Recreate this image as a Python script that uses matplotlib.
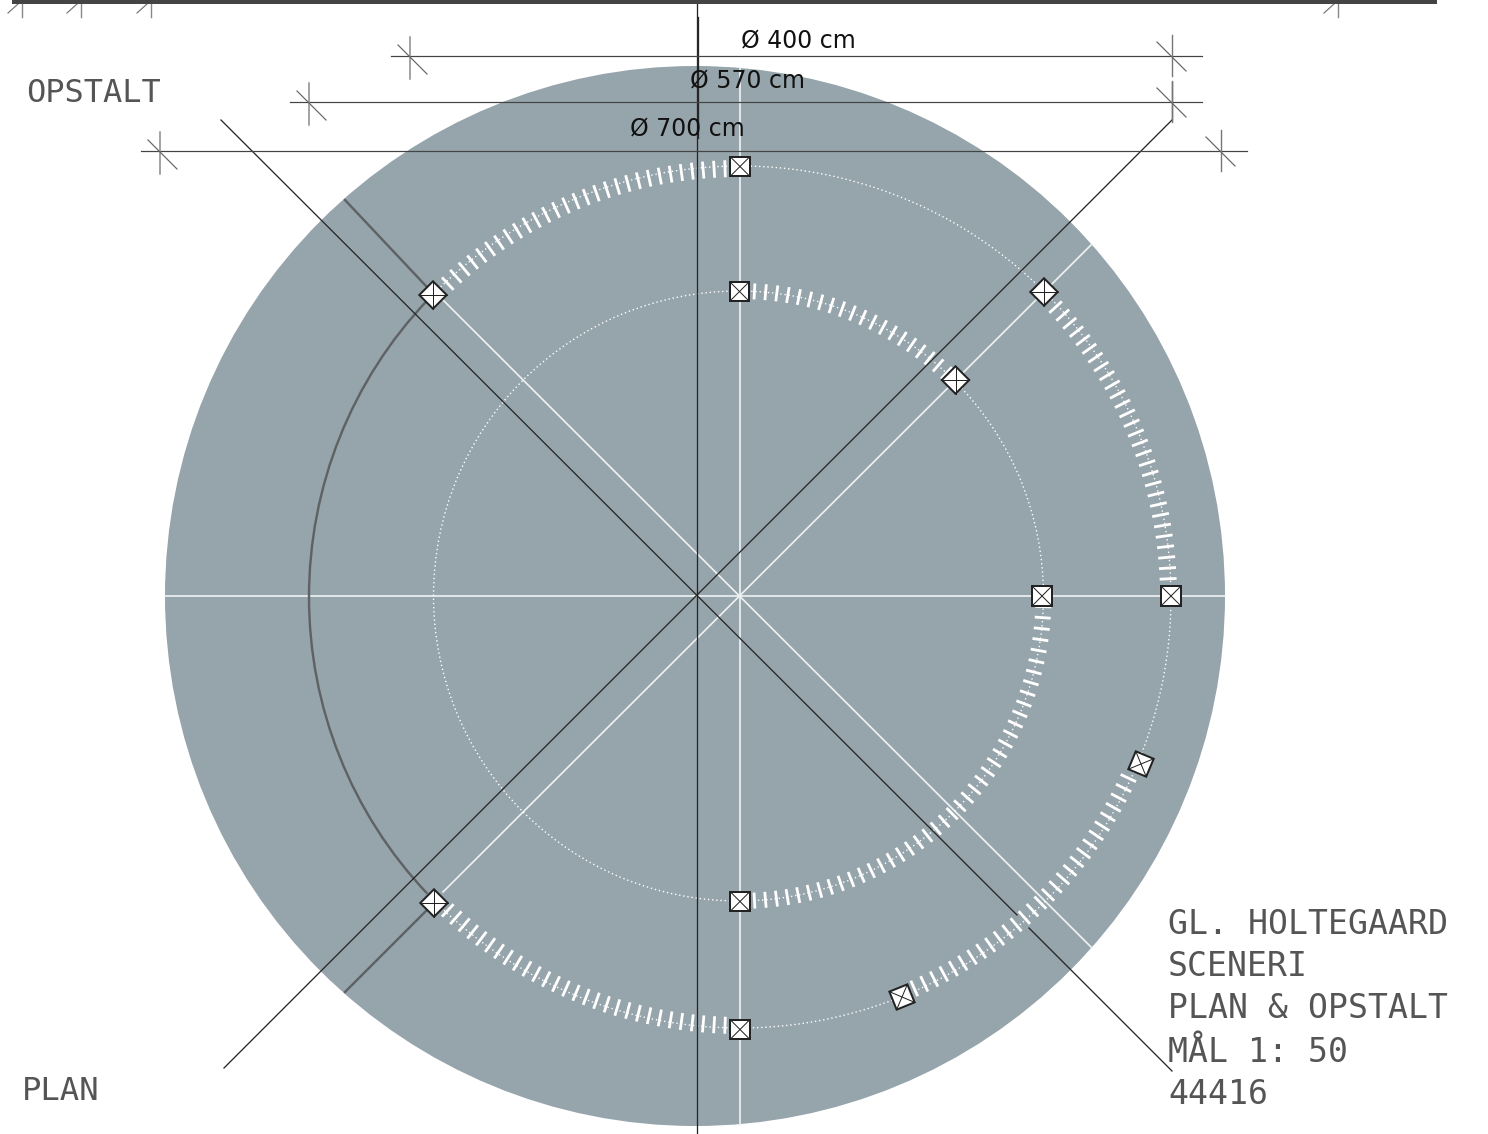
import numpy as np
import matplotlib

matplotlib.use("Agg")
import matplotlib.pyplot as plt
from matplotlib.collections import LineCollection
from matplotlib.patches import Arc, Circle, Polygon

# everything is in reference pixels (y down)
disc_center = (695, 596)
disc_radius = 530

outer_center = (740, 597)
outer_radius = 431
inner_center = (738.5, 596)
inner_radius = 305

# (start deg, end deg, number of ticks)
outer_ticks = [(1, 44, 31), (92, 133, 29), (227, 268, 29), (-66, -25, 29)]
inner_ticks = [(47, 87, 20), (-87, -2, 42)]
outer_dotted = [(-90, 134), (226, 270)]
inner_dotted = [(0, 360)]
grey_arc = (136.5, 223.5)

# x, y, rotation
markers_outer = [(1171, 596, 0), (740, 166.5, 0), (1141, 764, 22.7), (902, 997, 68),
                 (740, 1029.5, 0), (433, 295, 45), (434, 903, 45), (1044, 292, 45)]
markers_inner = [(739.5, 291.5, 0), (955.5, 380, 45), (1042, 596, 0), (740, 901.5, 0)]
marker_half = 9.7

dark_lines = [
    ((221, 120), (1017, 915)),
    ((1029, 928), (1172, 1071)),
    ((224, 1068), (1172, 120)),
    ((1172, 120), (1172, 82)),
    ((696.5, 4), (696.5, 1133)),
]
white_lines = [
    ((165, 596), (1225, 596)),
    ((739.5, 68), (739.5, 1125)),
    ((443, 300), (1091, 947)),
    ((443, 892), (1091, 245)),
]
grey_lines = [((345, 200), (426, 286)), ((345, 992), (427, 910))]

dim_y = [56, 102, 151]
dim_x0 = [391, 290, 141]
dim_x1 = [1202, 1202, 1247]
dim_tick_left = [410, 309, 160]
dim_tick_right = [1172, 1172, 1221]
dim_labels = ["Ø 400 cm", "Ø 570 cm", "Ø 700 cm"]
dim_label_x = [741, 690, 630]
dim_label_y = [40, 81, 129]

top_tick_x = [22, 81, 151, 1338]

title_lines = ["GL. HOLTEGAARD", "SCENERI", "PLAN & OPSTALT", "MÅL 1: 50", "44416"]
title_y = [924, 967, 1009, 1052, 1095]

DISC = "#96a4ab"
DARK = "#262626"
GREY = "#5f6264"
TEXT = "#555555"
PX = 0.72


def polar(center, r, deg):
    a = np.radians(deg)
    return center[0] + r * np.cos(a), center[1] - r * np.sin(a)


def ring_ticks(center, r0, r1, spans):
    segs = []
    for start, end, n in spans:
        for deg in np.linspace(start, end, n):
            segs.append((polar(center, r0, deg), polar(center, r1, deg)))
    return segs


def draw_dotted(center, r, spans):
    for start, end in spans:
        # y axis is flipped, so Arc angles run the other way
        ax.add_patch(Arc(center, 2 * r, 2 * r, theta1=-end, theta2=-start, color="white",
                         lw=1.0, ls=(0, (1, 2)), zorder=3))


def draw_marker(x, y, rot):
    a = np.radians(rot)
    corners = []
    for cx, cy in [(-1, -1), (1, -1), (1, 1), (-1, 1)]:
        px = marker_half * (cx * np.cos(a) - cy * np.sin(a))
        py = marker_half * (cx * np.sin(a) + cy * np.cos(a))
        corners.append((x + px, y + py))
    ax.add_patch(Polygon(corners, closed=True, fc="white", ec="#222222", lw=2 * PX, zorder=6))
    ax.plot([corners[0][0], corners[2][0]], [corners[0][1], corners[2][1]], color="#222222", lw=PX, zorder=7)
    ax.plot([corners[1][0], corners[3][0]], [corners[1][1], corners[3][1]], color="#222222", lw=PX, zorder=7)


fig = plt.figure(figsize=(14.88, 11.34), dpi=100)
ax = fig.add_axes([0, 0, 1, 1])
ax.set_xlim(0, 1488)
ax.set_ylim(1134, 0)
ax.axis("off")

ax.add_patch(Circle(disc_center, disc_radius, fc=DISC, ec="none", zorder=1))

for p, q in white_lines:
    ax.plot([p[0], q[0]], [p[1], q[1]], color="#eef1f2", lw=1.7 * PX, zorder=2)
for p, q in grey_lines:
    ax.plot([p[0], q[0]], [p[1], q[1]], color=GREY, lw=2.4 * PX, zorder=2)
ax.add_patch(Arc(outer_center, 2 * outer_radius, 2 * outer_radius, theta1=360 - grey_arc[1],
                 theta2=360 - grey_arc[0], color=GREY, lw=2.4 * PX, zorder=2))

draw_dotted(outer_center, outer_radius, outer_dotted)
draw_dotted(inner_center, inner_radius, inner_dotted)

ax.add_collection(LineCollection(ring_ticks(outer_center, outer_radius - 11, outer_radius + 6, outer_ticks),
                                 colors="white", linewidths=2.8 * PX, zorder=4))
ax.add_collection(LineCollection(ring_ticks(inner_center, inner_radius - 8, inner_radius + 8, inner_ticks),
                                 colors="white", linewidths=2.8 * PX, zorder=4))

for p, q in dark_lines:
    ax.plot([p[0], q[0]], [p[1], q[1]], color=DARK, lw=1.3 * PX, zorder=5)
ax.plot([698, 698], [17, 138], color=DARK, lw=1.3 * PX, zorder=5)

for x, y, rot in markers_outer + markers_inner:
    draw_marker(x, y, rot)

# dimension lines
for y, x0, x1, left, right in zip(dim_y, dim_x0, dim_x1, dim_tick_left, dim_tick_right):
    ax.plot([x0, x1], [y, y], color="#444444", lw=1.2 * PX, zorder=5)
    ax.plot([left, left], [y - 19, y + 23], color="#888888", lw=1.5 * PX, zorder=5)
    ax.plot([left - 12, left + 17], [y - 11, y + 18], color="#666666", lw=1.2 * PX, zorder=5)
    ax.plot([right, right], [y - 21, y + 20], color="#777777", lw=1.4 * PX, zorder=5)
    ax.plot([right - 15, right + 14], [y - 14, y + 15], color="#666666", lw=1.2 * PX, zorder=5)

for label, x, y in zip(dim_labels, dim_label_x, dim_label_y):
    ax.text(x, y, label, fontsize=17, family="DejaVu Sans", color="#111111", va="center", ha="left", zorder=8)

# sheet edge with the cut-off ticks
ax.plot([12, 1437], [2, 2], color="#444444", lw=4 * PX, solid_capstyle="butt", zorder=5)
for x in top_tick_x:
    ax.plot([x, x], [4, 17], color="#888888", lw=1.4 * PX, zorder=4)
    ax.plot([x - 14, x - 4], [13, 4], color="#777777", lw=1.2 * PX, zorder=4)

ax.text(26, 94, "OPSTALT", fontsize=23, family="DejaVu Sans Mono", color=TEXT, va="center", ha="left", zorder=8)
ax.text(22, 1092, "PLAN", fontsize=23.2, family="DejaVu Sans Mono", color=TEXT, va="center", ha="left", zorder=8)
for line, y in zip(title_lines, title_y):
    ax.text(1168, y, line, fontsize=23.9, family="DejaVu Sans Mono", color=TEXT, va="center", ha="left", zorder=8)

fig.savefig("out.png", dpi=100)
